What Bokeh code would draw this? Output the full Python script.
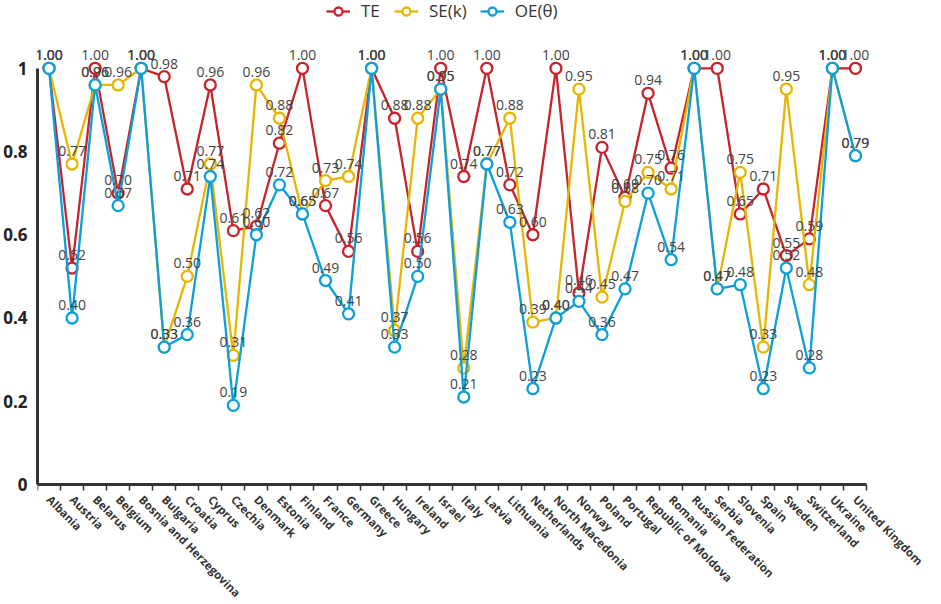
import math
from bokeh.plotting import figure
from bokeh.models import FixedTicker, Legend, LegendItem, Range1d, LinearAxis
from bokeh.core.properties import value
from bokeh.embed import file_html
from bokeh.resources import INLINE

countries = ["Albania", "Austria", "Belarus", "Belgium", "Bosnia and Herzegovina",
             "Bulgaria", "Croatia", "Cyprus", "Czechia", "Denmark", "Estonia",
             "Finland", "France", "Germany", "Greece", "Hungary", "Ireland",
             "Israel", "Italy", "Latvia", "Lithuania", "Netherlands",
             "North Macedonia", "Norway", "Poland", "Portugal",
             "Republic of Moldova", "Romania", "Russian Federation", "Serbia",
             "Slovenia", "Spain", "Sweden", "Switzerland", "Ukraine",
             "United Kingdom"]

te = [1.00, 0.52, 1.00, 0.70, 1.00, 0.98, 0.71, 0.96, 0.61, 0.62, 0.82, 1.00,
      0.67, 0.56, 1.00, 0.88, 0.56, 1.00, 0.74, 1.00, 0.72, 0.60, 1.00, 0.46,
      0.81, 0.69, 0.94, 0.76, 1.00, 1.00, 0.65, 0.71, 0.55, 0.59, 1.00, 1.00]

se_k = [1.00, 0.77, 0.96, 0.96, 1.00, 0.33, 0.50, 0.77, 0.31, 0.96, 0.88, 0.65,
        0.73, 0.74, 1.00, 0.37, 0.88, 0.95, 0.28, 0.77, 0.88, 0.39, 0.40, 0.95,
        0.45, 0.68, 0.75, 0.71, 1.00, 0.47, 0.75, 0.33, 0.95, 0.48, 1.00, 0.79]

oe_theta = [1.00, 0.40, 0.96, 0.67, 1.00, 0.33, 0.36, 0.74, 0.19, 0.60, 0.72, 0.65,
            0.49, 0.41, 1.00, 0.33, 0.50, 0.95, 0.21, 0.77, 0.63, 0.23, 0.40, 0.44,
            0.36, 0.47, 0.70, 0.54, 1.00, 0.47, 0.48, 0.23, 0.52, 0.28, 1.00, 0.79]

series_names = ["TE", "SE(k)", "OE(θ)"]
series_values = [te, se_k, oe_theta]
series_colors = ["#c8232b", "#e8b500", "#0b9fdc"]

y_ticks = [0, 0.2, 0.4, 0.6, 0.8, 1]
y_tick_labels = ["0", "0.2", "0.4", "0.6", "0.8", "1"]

FONT = "Open Sans"
n = len(countries)
xs = list(range(n))

p = figure(width=925, height=600, output_backend="svg", toolbar_location=None,
           x_range=Range1d(-0.5, 38.04),
           y_range=Range1d(-0.279, 1.163),
           x_axis_location=None,
           min_border_left=0, min_border_right=0, min_border_top=0,
           min_border_bottom=0)
p.grid.visible = False
p.outline_line_color = None
p.background_fill_color = "white"
p.border_fill_color = "white"

items = []
for name, vals, col in zip(series_names, series_values, series_colors):
    lr = p.line(xs, vals, line_color=col, line_width=2.3)
    sr = p.scatter(xs, vals, marker="circle", size=11, fill_color="white",
                   line_color=col, line_width=2.3)
    items.append(LegendItem(label=name, renderers=[lr, sr]))

for vals in series_values:
    p.text(xs, vals, text=[f"{v:.2f}" for v in vals], text_align="center",
           text_baseline="bottom", y_offset=-8, text_font_size="14px",
           text_color="#444444", text_font=value(FONT))

legend = Legend(items=items, orientation="horizontal", location=(289, 578),
                label_text_font=FONT, label_text_font_size="17px",
                label_text_color="#333333", glyph_width=24, label_standoff=11,
                spacing=13, padding=2, margin=0, border_line_color=None,
                background_fill_alpha=0)
p.add_layout(legend, "center")

# y axis
p.yaxis.ticker = FixedTicker(ticks=y_ticks)
p.yaxis.major_label_overrides = {t: l for t, l in zip(y_ticks, y_tick_labels)}
p.yaxis.bounds = (0, 1)
p.yaxis.axis_line_width = 3
p.yaxis.axis_line_color = "#333333"
p.yaxis.major_tick_line_color = None
p.yaxis.minor_tick_line_color = None
p.yaxis.major_label_text_font = FONT
p.yaxis.major_label_text_font_style = "bold"
p.yaxis.major_label_text_font_size = "17px"
p.yaxis.major_label_text_color = "#222222"
p.yaxis.major_label_standoff = 4

# x axis drawn at y = 0 with boundary ticks pointing down
xaxis = LinearAxis(fixed_location=0, bounds=(-0.5, n - 0.5),
                   ticker=FixedTicker(ticks=[], minor_ticks=[i - 0.5 for i in range(n + 1)]),
                   axis_line_width=3, axis_line_color="#333333",
                   major_tick_line_color=None, major_tick_in=0, major_tick_out=0,
                   minor_tick_in=-6, minor_tick_out=0,
                   minor_tick_line_color="#333333", minor_tick_line_width=1.5,
                   major_label_standoff=0)
p.add_layout(xaxis, "below")

# category names along the x axis
p.text(xs, [0] * n, text=countries, angle=-math.pi / 4, text_align="left",
       text_baseline="middle", x_offset=0, y_offset=13, text_font=value(FONT),
       text_font_style="bold", text_font_size="11.5px", text_color="#333333")

open("out.html", "w").write(file_html(p, INLINE))
